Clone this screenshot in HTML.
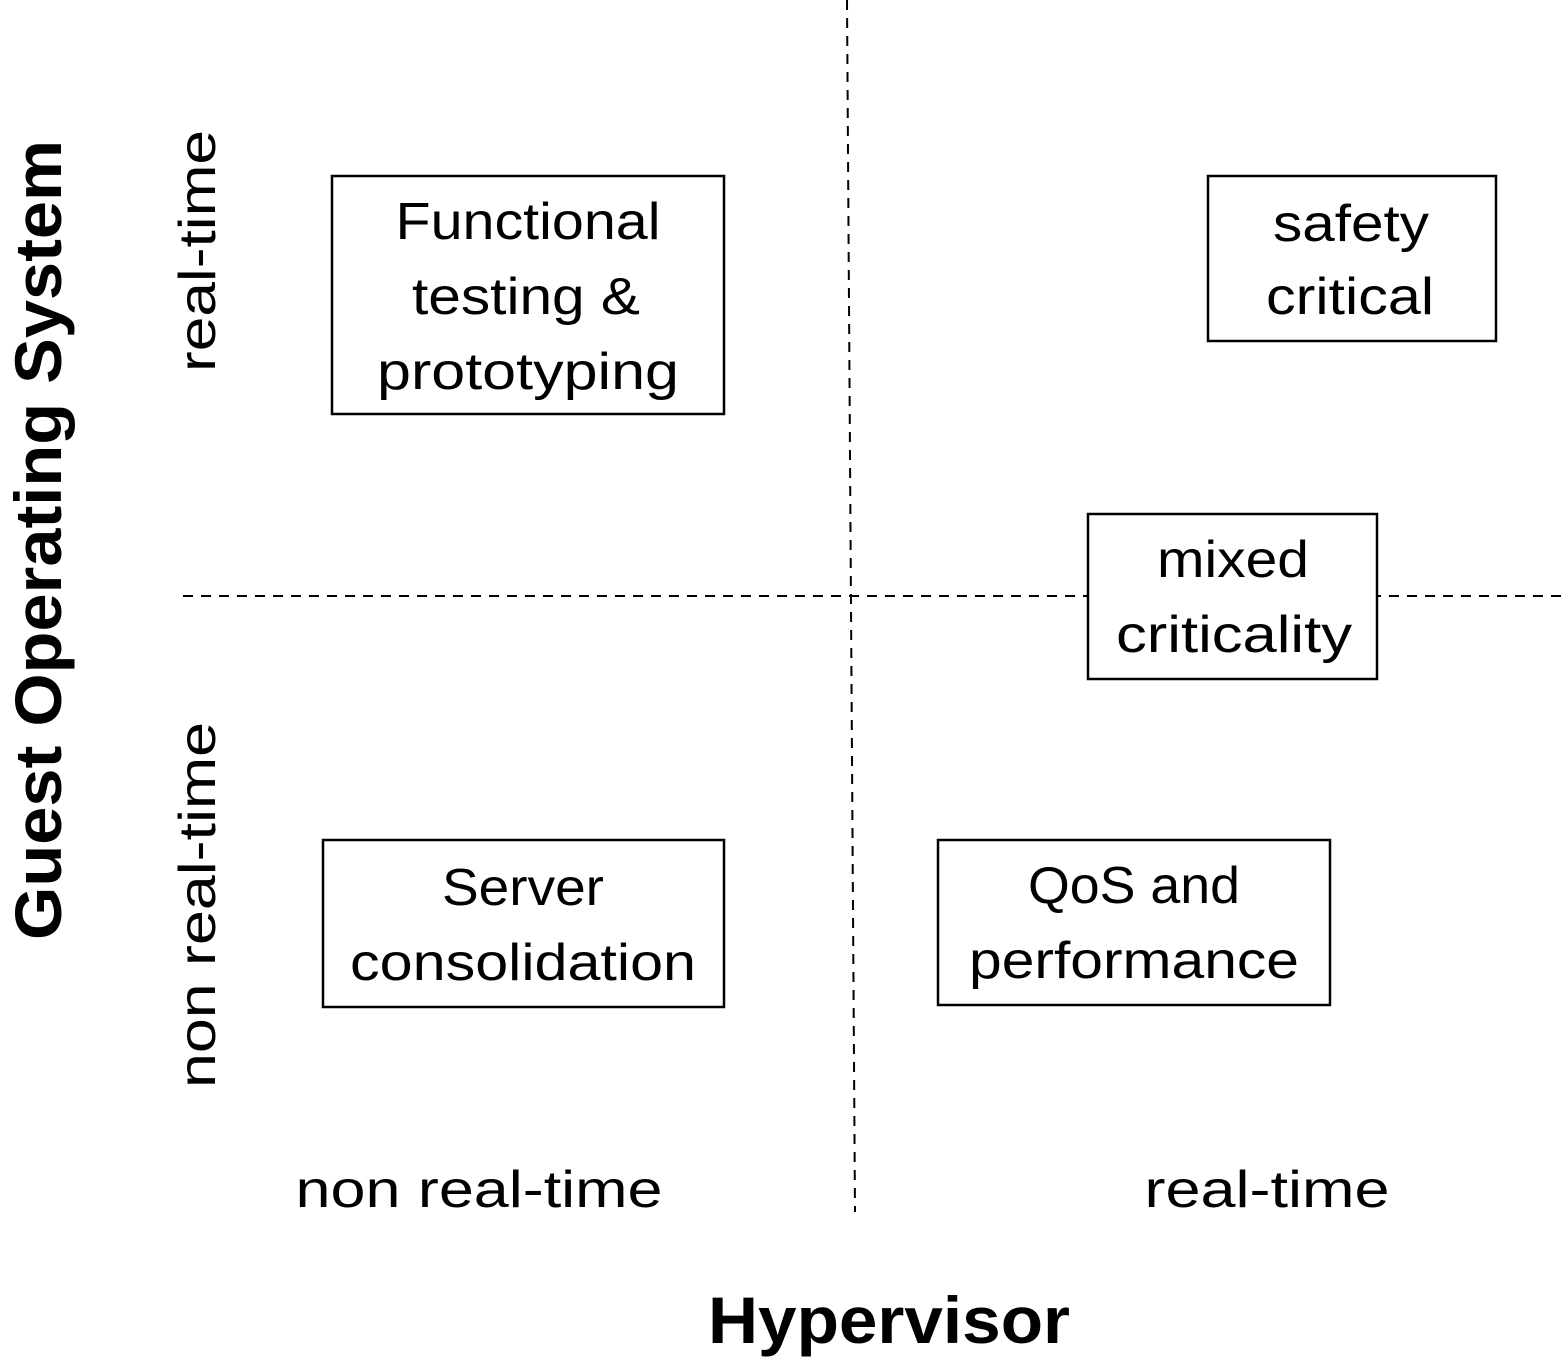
<!DOCTYPE html>
<html><head><meta charset="utf-8"><style>
html,body{margin:0;padding:0;background:#fff;}
svg{display:block;}
text{font-family:"Liberation Sans",sans-serif;fill:#000;}
.t{font-size:52px;}
.b{font-size:66px;font-weight:bold;}
</style></head><body>
<svg width="1561" height="1362" viewBox="0 0 1561 1362" xmlns="http://www.w3.org/2000/svg">
<line x1="847" y1="0" x2="855" y2="1212" stroke="#000" stroke-width="2" stroke-dasharray="10,8"/>
<line x1="183" y1="596" x2="1561" y2="596" stroke="#000" stroke-width="2" stroke-dasharray="10,8"/>
<g fill="#fff" stroke="#000" stroke-width="2.5">
<rect x="332" y="176" width="392" height="238"/>
<rect x="1208" y="176" width="288" height="165"/>
<rect x="1088" y="514" width="289" height="165"/>
<rect x="323" y="840" width="401" height="167"/>
<rect x="938" y="840" width="392" height="165"/>
</g>
<g class="t" text-anchor="middle" dominant-baseline="central">
<text x="528" y="222" textLength="265" lengthAdjust="spacingAndGlyphs">Functional</text>
<text x="526" y="297" textLength="228" lengthAdjust="spacingAndGlyphs">testing &amp;</text>
<text x="528" y="372" textLength="302" lengthAdjust="spacingAndGlyphs">prototyping</text>
<text x="1351" y="224" textLength="156" lengthAdjust="spacingAndGlyphs">safety</text>
<text x="1350" y="297" textLength="168" lengthAdjust="spacingAndGlyphs">critical</text>
<text x="1233" y="560" textLength="152" lengthAdjust="spacingAndGlyphs">mixed</text>
<text x="1234" y="635" textLength="236" lengthAdjust="spacingAndGlyphs">criticality</text>
<text x="523" y="888" textLength="162" lengthAdjust="spacingAndGlyphs">Server</text>
<text x="523" y="963" textLength="346" lengthAdjust="spacingAndGlyphs">consolidation</text>
<text x="1134" y="886" textLength="212" lengthAdjust="spacingAndGlyphs">QoS and</text>
<text x="1134" y="961" textLength="330" lengthAdjust="spacingAndGlyphs">performance</text>
<text x="479" y="1190" textLength="367" lengthAdjust="spacingAndGlyphs">non real-time</text>
<text x="1267" y="1190" textLength="245" lengthAdjust="spacingAndGlyphs">real-time</text>
<text x="198" y="251" transform="rotate(-90 198 251)" textLength="242" lengthAdjust="spacingAndGlyphs">real-time</text>
<text x="198" y="905" transform="rotate(-90 198 905)" textLength="366" lengthAdjust="spacingAndGlyphs">non real-time</text>
</g>
<g class="b" text-anchor="middle" dominant-baseline="central">
<text x="889" y="1320" textLength="362" lengthAdjust="spacingAndGlyphs">Hypervisor</text>
<text x="38" y="540" transform="rotate(-90 38 540)" textLength="800" lengthAdjust="spacingAndGlyphs">Guest Operating System</text>
</g>
</svg>
</body></html>
